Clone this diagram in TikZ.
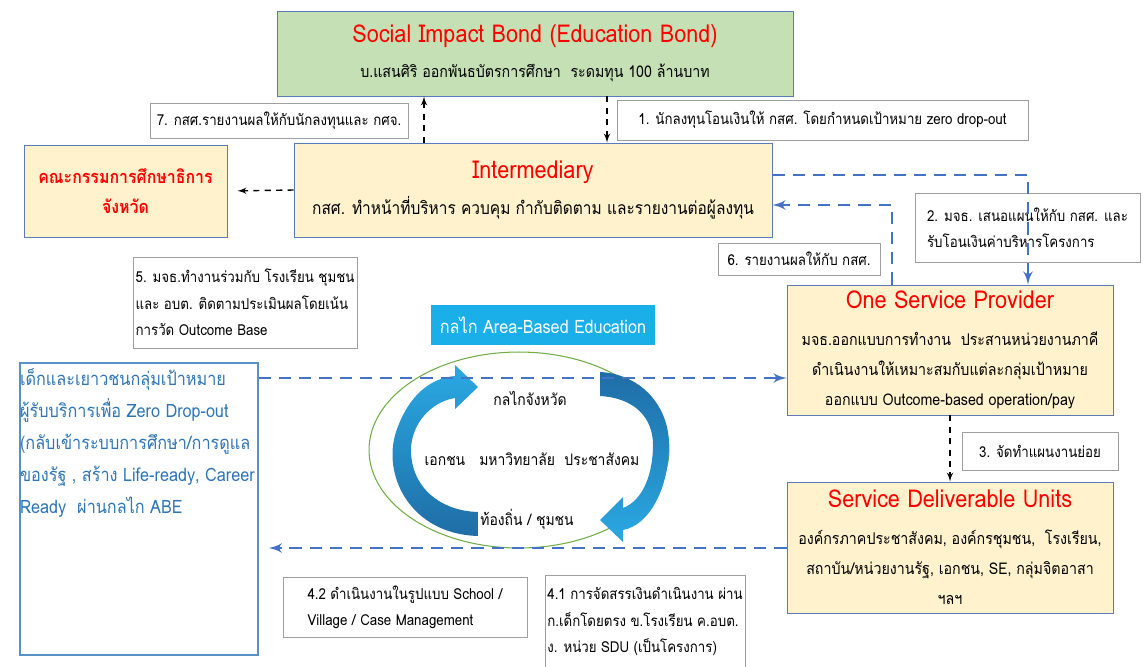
\documentclass[tikz,border=0pt]{standalone}
\usepackage{fontspec}
\setmainfont[Script=Thai, FakeStretch=0.88]{Loma}
\usetikzlibrary{arrows,calc,positioning,shapes.geometric}
\definecolor{boxline}{HTML}{5B7BB7}
\definecolor{sibgreen}{HTML}{C5E0B4}
\definecolor{paleyellow}{HTML}{FFF2CC}
\definecolor{flowblue}{HTML}{4472C4}
\definecolor{abecyan}{HTML}{1AAFE8}
\definecolor{textblue}{HTML}{2E75B6}
\definecolor{ringgreen}{HTML}{70AD47}
\definecolor{arrowlight}{HTML}{2AA9E3}
\definecolor{arrowdark}{HTML}{1F6DA6}
\definecolor{titlered}{HTML}{FF0000}
\newcommand{\boxhead}[1]{{\color{titlered}\fontsize{14}{16}\selectfont #1}}
\tikzset{%
	mainbox/.style  = {draw=boxline, fill=paleyellow, rectangle, align=center, inner sep=0pt, font=\fontsize{9.2}{17}\selectfont},
	note/.style     = {draw=gray!75, fill=white, rectangle, align=left, inner sep=0pt, font=\fontsize{8.6}{15}\selectfont}, % numbered step
	abebox/.style   = {fill=abecyan, rectangle, text=white, inner sep=0pt, font=\fontsize{10.5}{12}\selectfont},
	targetbox/.style= {draw=textblue!80, line width=0.8pt, rectangle, text=textblue, inner sep=0pt, font=\fontsize{10.5}{18.2}\selectfont},
	ringtext/.style = {font=\fontsize{9}{12}\selectfont},
	flow/.style     = {draw=flowblue, line width=1.6pt, dash pattern=on 7pt off 4.5pt, ->},
	ctrl/.style     = {draw=black, line width=0.8pt, dash pattern=on 3.5pt off 3pt, ->},
}
\begin{document}
\begin{tikzpicture}[x=0.02cm,y=-0.02cm,>=latex']
	\useasboundingbox (0,0) rectangle (1145,666);
	% main boxes
	\node[mainbox, fill=sibgreen, minimum width=10.32cm, minimum height=1.70cm] (sib) at (535,53.5)
		{\boxhead{Social Impact Bond (Education Bond)}\\[3pt] บ.แสนศิริ ออกพันธบัตรการศึกษา~~ระดมทุน 100 ล้านบาท};
	\node[mainbox, minimum width=9.56cm, minimum height=1.88cm, font=\fontsize{10}{17}\selectfont] (inter) at (533,190)
		{\boxhead{Intermediary}\\[4pt] กสศ. ทำหน้าที่บริหาร ควบคุม กำกับติดตาม และรายงานต่อผู้ลงทุน};
	\node[mainbox, minimum width=4.06cm, minimum height=1.84cm, text=titlered, font=\fontsize{10.3}{17}\selectfont\bfseries] (board) at (125.5,191)
		{คณะกรรมการศึกษาธิการ\\จังหวัด};
	\node[mainbox, minimum width=6.52cm, minimum height=2.60cm] (osp) at (950,350)
		{\boxhead{One Service Provider}\\[4pt] มจธ.ออกแบบการทำงาน~~ประสานหน่วยงานภาคี\\ ดำเนินงานให้เหมาะสมกับแต่ละกลุ่มเป้าหมาย\\ ออกแบบ Outcome-based operation/pay};
	\node[mainbox, minimum width=6.52cm, minimum height=2.62cm] (sdu) at (950,547.5)
		{\boxhead{Service Deliverable Units}\\[4pt] องค์กรภาคประชาสังคม, องค์กรชุมชน,~~โรงเรียน,\\ สถาบัน/หน่วยงานรัฐ, เอกชน, SE, กลุ่มจิตอาสา\\ ฯลฯ};
	\node[targetbox] (target) at (139,509)
		{\parbox[c][5.84cm][t]{4.76cm}{\raggedright\vspace*{3pt}%
		เด็กและเยาวชนกลุ่มเป้าหมาย\\ ผู้รับบริการเพื่อ Zero Drop-out\\ (กลับเข้าระบบการศึกษา/การดูแล\\ ของรัฐ , สร้าง Life-ready, Career\\ Ready~~ผ่านกลไก ABE}};
	% numbered steps
	\node[note, minimum width=5.16cm, minimum height=0.70cm] (lab7) at (279,120.5) {7. กสศ.รายงานผลให้กับนักลงทุนและ กศจ.};
	\node[note, minimum width=8.22cm, minimum height=0.80cm] (lab1) at (822.5,120) {1. นักลงทุนโอนเงินให้ กสศ. โดยกำหนดเป้าหมาย zero drop-out};
	\node[note, minimum width=4.50cm, minimum height=1.38cm] (lab2) at (1027.5,227.5) {2. มจธ. เสนอแผนให้กับ กสศ. และ\\ รับโอนเงินค่าบริหารโครงการ};
	\node[note, minimum width=3.24cm, minimum height=0.64cm] (lab6) at (799,259) {6. รายงานผลให้กับ กสศ.};
	\node[note, minimum width=4.48cm, minimum height=1.82cm] (lab5) at (245,302.5) {5. มจธ.ทำงานร่วมกับ โรงเรียน ชุมชน\\ และ อบต. ติดตามประเมินผลโดยเน้น\\ การวัด Outcome Base};
	\node[note, minimum width=3.12cm, minimum height=0.76cm] (lab3) at (1040,451) {3. จัดทำแผนงานย่อย};
	\node[note, minimum width=4.88cm, minimum height=1.20cm] (lab42) at (405,607) {4.2 ดำเนินงานในรูปแบบ School /\\ Village / Case Management};
	\node[note, minimum width=4.00cm, minimum height=1.86cm] (lab41) at (645,621.5) {4.1 การจัดสรรเงินดำเนินงาน ผ่าน\\ ก.เด็กโดยตรง ข.โรงเรียน ค.อบต.\\ ง. หน่วย SDU (เป็นโครงการ)};
	% area-based mechanism
	\node[abebox, minimum width=4.48cm, minimum height=0.80cm] (abe) at (543,325) {กลไก Area-Based Education};
	\draw[ringgreen, line width=0.6pt] (519,450) ellipse [x radius=3cm, y radius=1.96cm];
	\shade[top color=arrowlight, bottom color=arrowdark]
		(478,536) .. controls (410,534) and (382,475) .. (396,432)
		.. controls (408,396) and (430,378) .. (455,376) -- (455,365) -- (478,387) -- (455,409) -- (455,398)
		.. controls (430,402) and (411,425) .. (411,450)
		.. controls (411,487) and (440,511) .. (478,512) -- cycle;
	\shade[top color=arrowdark, bottom color=arrowlight]
		(600,372) .. controls (640,374) and (669,405) .. (669,445)
		.. controls (669,487) and (650,525) .. (623,530) -- (623,542) -- (600,520) -- (623,497) -- (623,508)
		.. controls (644,500) and (653,472) .. (653,445)
		.. controls (653,418) and (635,398) .. (600,396) -- cycle;
	\node[ringtext] (prov) at (530,398) {กลไกจังหวัด};
	\node[ringtext] (part) at (532,459) {เอกชน~~~มหาวิทยาลัย~~ประชาสังคม};
	\node[ringtext] (local) at (527,519) {ท้องถิ่น / ชุมชน};
	% waypoints
	\coordinate (up7) at (424,0);
	\coordinate (down1) at (607,0);
	\coordinate (a1) at (1028,175);
	\coordinate (b1) at (892,205);
	\coordinate (c1) at (0,378);
	\coordinate (d1) at (0,548);
	% connectors
	\draw[ctrl] (inter.north -| up7) -- (sib.south -| up7);
	\draw[ctrl] (sib.south -| down1) -- (inter.north -| down1);
	\draw[ctrl, shorten >=0.2cm] (inter.west) -- (board.east);
	\draw[ctrl] (osp.south) -- (sdu.north);
	\draw[flow] (a1 -| inter.east) -- (a1) -- (a1 |- osp.north);
	\draw[flow] (b1 |- osp.north) -- (b1) -- (b1 -| inter.east);
	\draw[flow] (c1 -| target.east) -- (c1 -| osp.west);
	\draw[flow, shorten >=0.2cm] (d1 -| sdu.west) -- (d1 -| target.east);
\end{tikzpicture}
\end{document}
